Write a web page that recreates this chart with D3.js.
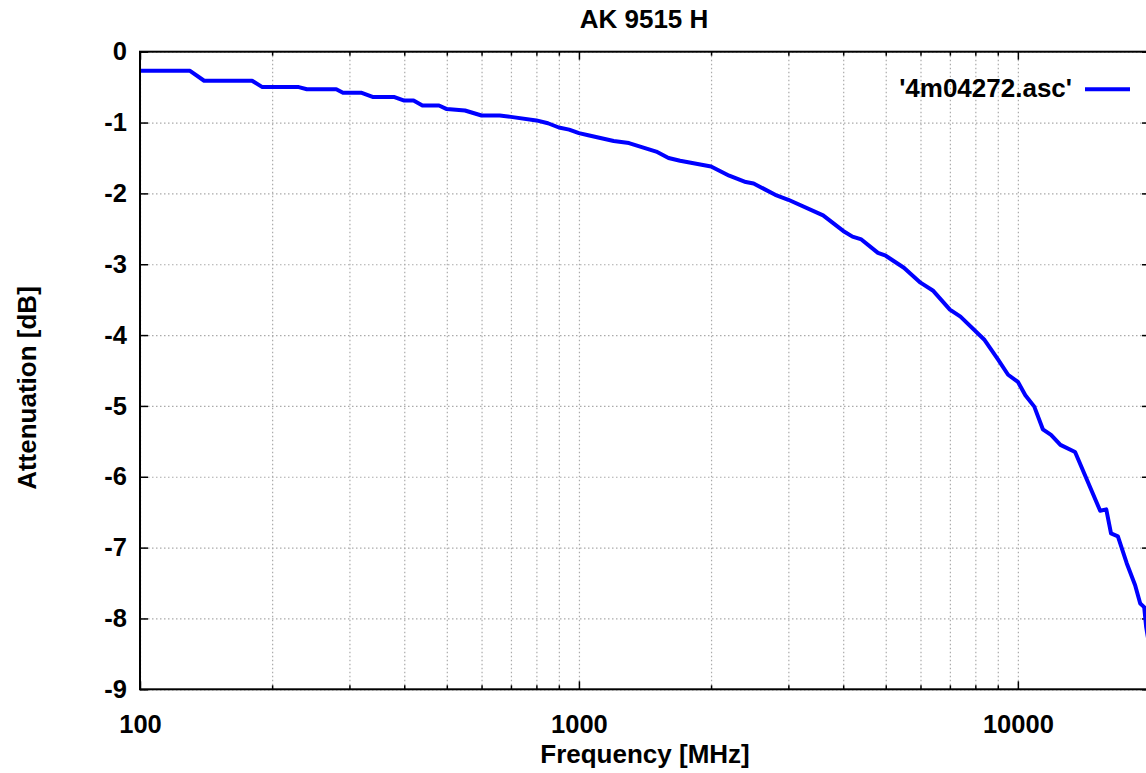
<!DOCTYPE html>
<meta charset="utf-8">
<style>
  body { margin: 0; background: #fff; }
  text { font-family: "Liberation Sans", Arial, sans-serif; font-weight: bold; font-size: 26px; fill: #000; }
  .grid line { stroke: #aaa; stroke-width: 1.2; stroke-dasharray: 1.5,2.5; }
  .grid path { display: none; }
  .axis path { display: none; }
  .axis line { stroke: #000; stroke-width: 1.5; }
  .axis text { font-size: 25.5px; }
</style>
<body>
<script src="https://d3js.org/d3.v7.min.js"></script>
<script>
// measured curve, frequency in MHz and attenuation in dB
var freqs = [100, 130, 140, 180, 190, 230, 240, 280, 290, 320, 340, 380, 400, 420, 440, 480, 500, 550, 600, 660,
             700, 800, 850, 900, 950, 1000, 1050, 1200, 1300, 1500, 1600, 1700, 2000, 2200, 2400, 2500, 2800, 3000,
             3600, 4000, 4200, 4400, 4800, 5000, 5500, 6000, 6400, 7000, 7400, 8400, 9000, 9500, 10000, 10400,
             10900, 11400, 11900, 12500, 13500, 15400, 15900, 16300, 16900, 17700, 18500, 19000, 19400, 19600, 20000];
var atten = [-0.27, -0.27, -0.41, -0.41, -0.50, -0.50, -0.53, -0.53, -0.58, -0.58, -0.64, -0.64, -0.69, -0.69, -0.76, -0.76, -0.81, -0.83, -0.90, -0.90,
             -0.92, -0.97, -1.01, -1.07, -1.10, -1.15, -1.18, -1.26, -1.29, -1.41, -1.50, -1.54, -1.62, -1.75, -1.84, -1.86, -2.02, -2.09,
             -2.31, -2.53, -2.61, -2.65, -2.84, -2.88, -3.05, -3.26, -3.37, -3.64, -3.74, -4.07, -4.34, -4.56, -4.66, -4.85,
             -5.01, -5.33, -5.41, -5.55, -5.65, -6.48, -6.46, -6.80, -6.84, -7.22, -7.53, -7.79, -7.84, -8.12, -8.45];

var xMajor = [100, 1000, 10000];
var xMinor = [200, 300, 400, 500, 600, 700, 800, 900, 2000, 3000, 4000, 5000, 6000, 7000, 8000, 9000, 20000];
var yTicks = [0, -1, -2, -3, -4, -5, -6, -7, -8, -9];

var title = "AK 9515 H",
    xLabel = "Frequency [MHz]",
    yLabel = "Attenuation [dB]",
    seriesName = "'4m04272.asc'";

var W = 1146, H = 773;
var margin = {top: 51.7, left: 140, right: 1150, bottom: 689.3};
var width = margin.right - margin.left,
    height = margin.bottom - margin.top;

var plain = function(d) { return String(d); };  // keep ascii hyphen like the original

var svg = d3.select("body").append("svg")
    .attr("width", W)
    .attr("height", H);

var x = d3.scaleLog().domain([100, 20000]).range([0, width]);
var y = d3.scaleLinear().domain([-9, 0]).range([height, 0]);

var g = svg.append("g").attr("transform", "translate(" + margin.left + "," + margin.top + ")");

// grid
g.append("g").attr("class", "grid")
    .attr("transform", "translate(0," + height + ")")
    .call(d3.axisBottom(x).tickValues(xMajor.concat(xMinor)).tickSize(-height).tickFormat(""));
g.append("g").attr("class", "grid")
    .call(d3.axisLeft(y).tickValues(yTicks).tickSize(-width).tickFormat(""));

// ticks, all pointing inward
g.append("g").attr("class", "axis")
    .attr("transform", "translate(0," + height + ")")
    .call(d3.axisBottom(x).tickValues(xMajor).tickSize(-8).tickPadding(26).tickFormat(plain));
g.append("g").attr("class", "axis")
    .attr("transform", "translate(0," + height + ")")
    .call(d3.axisBottom(x).tickValues(xMinor).tickSize(-4).tickFormat(""));
g.append("g").attr("class", "axis")
    .call(d3.axisTop(x).tickValues(xMajor).tickSize(-8).tickFormat(""));
g.append("g").attr("class", "axis")
    .call(d3.axisTop(x).tickValues(xMinor).tickSize(-4).tickFormat(""));
g.append("g").attr("class", "axis")
    .call(d3.axisLeft(y).tickValues(yTicks).tickSize(-8).tickPadding(13).tickFormat(plain));
g.append("g").attr("class", "axis")
    .attr("transform", "translate(" + width + ",0)")
    .call(d3.axisRight(y).tickValues(yTicks).tickSize(-8).tickFormat(""));

// curve
g.append("clipPath").attr("id", "clip")
  .append("rect").attr("width", width).attr("height", height);

var pts = freqs.map(function(f, i) { return [f, atten[i]]; });
var line = d3.line().x(function(d) { return x(d[0]); }).y(function(d) { return y(d[1]); });

g.append("path")
    .datum(pts)
    .attr("clip-path", "url(#clip)")
    .attr("d", line)
    .attr("fill", "none")
    .attr("stroke", "#0000ff")
    .attr("stroke-width", 4)
    .attr("stroke-linejoin", "round");

// border
g.append("rect")
    .attr("width", width).attr("height", height)
    .attr("fill", "none").attr("stroke", "#000").attr("stroke-width", 2);

// legend
svg.append("text").attr("x", 1072).attr("y", 97).attr("text-anchor", "end").text(seriesName);
svg.append("line").attr("x1", 1085).attr("x2", 1130).attr("y1", 89.3).attr("y2", 89.3)
    .attr("stroke", "#0000ff").attr("stroke-width", 4);

// titles
svg.append("text").attr("x", 644).attr("y", 28).attr("text-anchor", "middle").text(title);
svg.append("text").attr("x", 645).attr("y", 763).attr("text-anchor", "middle").text(xLabel);
svg.append("text")
    .attr("transform", "translate(36,388) rotate(-90)")
    .attr("text-anchor", "middle").text(yLabel);
</script>
</body>
</html>
